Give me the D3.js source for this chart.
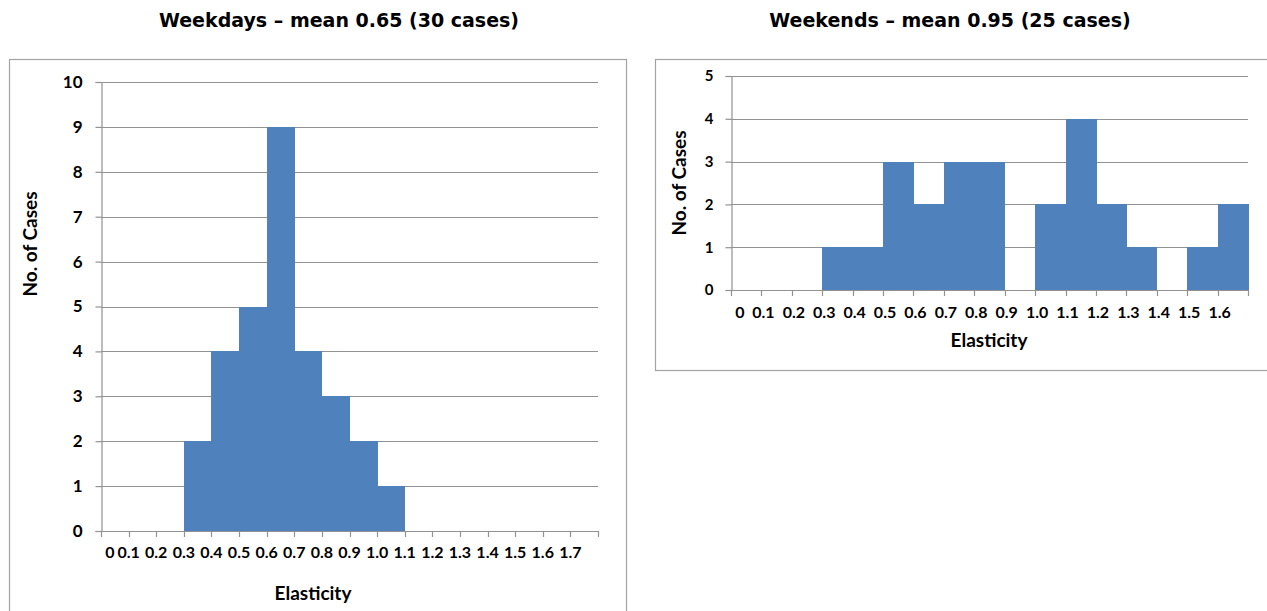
<!DOCTYPE html>
<html><head><meta charset="utf-8">
<script src="https://cdn.jsdelivr.net/npm/d3@7"></script>
<style>
body{margin:0;background:#fff;}
svg{display:block;}
text{font-family:Lato,"Open Sans",sans-serif;font-weight:bold;fill:#000;}
.title{font-family:"DejaVu Sans",sans-serif;font-weight:bold;}
</style></head>
<body>
<svg id="c" width="1267" height="611"></svg>
<script>
// ---- data ----
const weekdayBins = ["0","0.1","0.2","0.3","0.4","0.5","0.6","0.7","0.8","0.9","1.0","1.1","1.2","1.3","1.4","1.5","1.6","1.7"];
const weekdayCounts = [0,0,0,2,4,5,9,4,3,2,1,0,0,0,0,0,0,0];
const weekendBins = ["0","0.1","0.2","0.3","0.4","0.5","0.6","0.7","0.8","0.9","1.0","1.1","1.2","1.3","1.4","1.5","1.6"];
const weekendCounts = [0,0,0,1,1,3,2,3,3,0,2,4,2,1,0,1,2];
const weekdayYTicks = [0,1,2,3,4,5,6,7,8,9,10];
const weekendYTicks = [0,1,2,3,4,5];
const titles = ["Weekdays – mean 0.65 (30 cases)","Weekends – mean 0.95 (25 cases)"];
const xTitle = "Elasticity", yTitle = "No. of Cases";

const svg = d3.select("#c");
const BLUE = "#4F81BD", GRID = "#929292", FRAME = "#a3a3a3";

function panel(o){
  const g = svg.append("g");
  g.append("rect").attr("x",o.fx).attr("y",o.fy).attr("width",o.fw).attr("height",o.fh)
    .attr("fill","#fff").attr("stroke",FRAME).attr("stroke-width",1.2);
  const x = d3.scaleBand().domain(o.bins).range([o.x0,o.x1]).padding(0);
  const y = d3.scaleLinear().domain([0,o.ymax]).range([o.y0,o.yTop]);
  // gridlines
  g.selectAll(".grid").data(o.yticks.filter(d=>d>0)).join("line")
    .attr("x1",o.x0).attr("x2",o.x1).attr("y1",d=>Math.round(y(d))+0.5).attr("y2",d=>Math.round(y(d))+0.5)
    .attr("stroke",GRID).attr("stroke-width",1.2);
  // bars
  g.selectAll(".bar").data(o.bins.map((b,i)=>({b,v:o.counts[i]})).filter(d=>d.v>0)).join("rect")
    .attr("x",d=>x(d.b)).attr("width",x.bandwidth()+0.6)
    .attr("y",d=>y(d.v)).attr("height",d=>y(0)-y(d.v)).attr("fill",BLUE)
    .attr("shape-rendering","crispEdges");
  // y axis
  const ya = d3.axisLeft(y).tickValues(o.yticks).tickSize(6).tickPadding(o.ytp).tickFormat(d3.format("d"));
  const yg = g.append("g").attr("transform",`translate(${o.x0+0.5},0)`).call(ya);
  yg.select(".domain").attr("stroke",GRID).attr("stroke-width",1.2);
  yg.selectAll(".tick line").attr("stroke",GRID).attr("stroke-width",1.2);
  yg.selectAll(".tick text").style("font-size",o.yfs+"px").style("font-family","Lato").style("font-weight","bold").attr("fill","#000");
  // x axis line + ticks
  const xticks = o.bins.map(b=>x(b)).concat([o.x1]);
  g.append("line").attr("x1",o.x0).attr("x2",o.x1).attr("y1",Math.round(o.y0)+0.5).attr("y2",Math.round(o.y0)+0.5)
    .attr("stroke",GRID).attr("stroke-width",1.2);
  g.selectAll(".xt").data(xticks).join("line")
    .attr("x1",d=>Math.round(d)+0.5).attr("x2",d=>Math.round(d)+0.5)
    .attr("y1",o.y0).attr("y2",o.y0+6).attr("stroke",GRID).attr("stroke-width",1.2);
  g.selectAll(".xl").data(o.bins).join("text")
    .attr("x",(d,i)=>x(d)+(i===0?o.firstDx:o.ldx)).attr("y",o.xly)
    .attr("text-anchor","middle").style("font-size",o.xfs+"px").text(d=>d);
  // axis titles
  g.append("text").attr("x",o.xtx).attr("y",o.xty).attr("text-anchor","middle")
    .style("font-size",o.tfs+"px").text(xTitle);
  g.append("text").attr("transform",`translate(${o.ytx},${o.yty}) rotate(-90)`).attr("text-anchor","middle")
    .style("font-size",o.tfs+"px").text(yTitle);
  // chart title
  svg.append("text").attr("class","title").attr("x",o.tx).attr("y",27).attr("text-anchor","middle")
    .style("font-size","19px").text(o.title);
}

panel({fx:9.5,fy:59.5,fw:617,fh:600,x0:101,x1:598,y0:531,yTop:82,ymax:10,
  bins:weekdayBins,counts:weekdayCounts,yticks:weekdayYTicks,xfs:16,yfs:17,tfs:19,ytp:13,
  firstDx:9,ldx:0,xly:558,xtx:313,xty:600,ytx:37,yty:244,tx:339,title:titles[0]});
panel({fx:655.5,fy:59.5,fw:700,fh:311,x0:731,x1:1248,y0:290,yTop:76,ymax:5,
  bins:weekendBins,counts:weekendCounts,yticks:weekendYTicks,xfs:16,yfs:15,tfs:19,ytp:12,
  firstDx:9,ldx:2,xly:318,xtx:989,xty:347,ytx:686,yty:183,tx:950,title:titles[1]});
</script>
</body></html>
